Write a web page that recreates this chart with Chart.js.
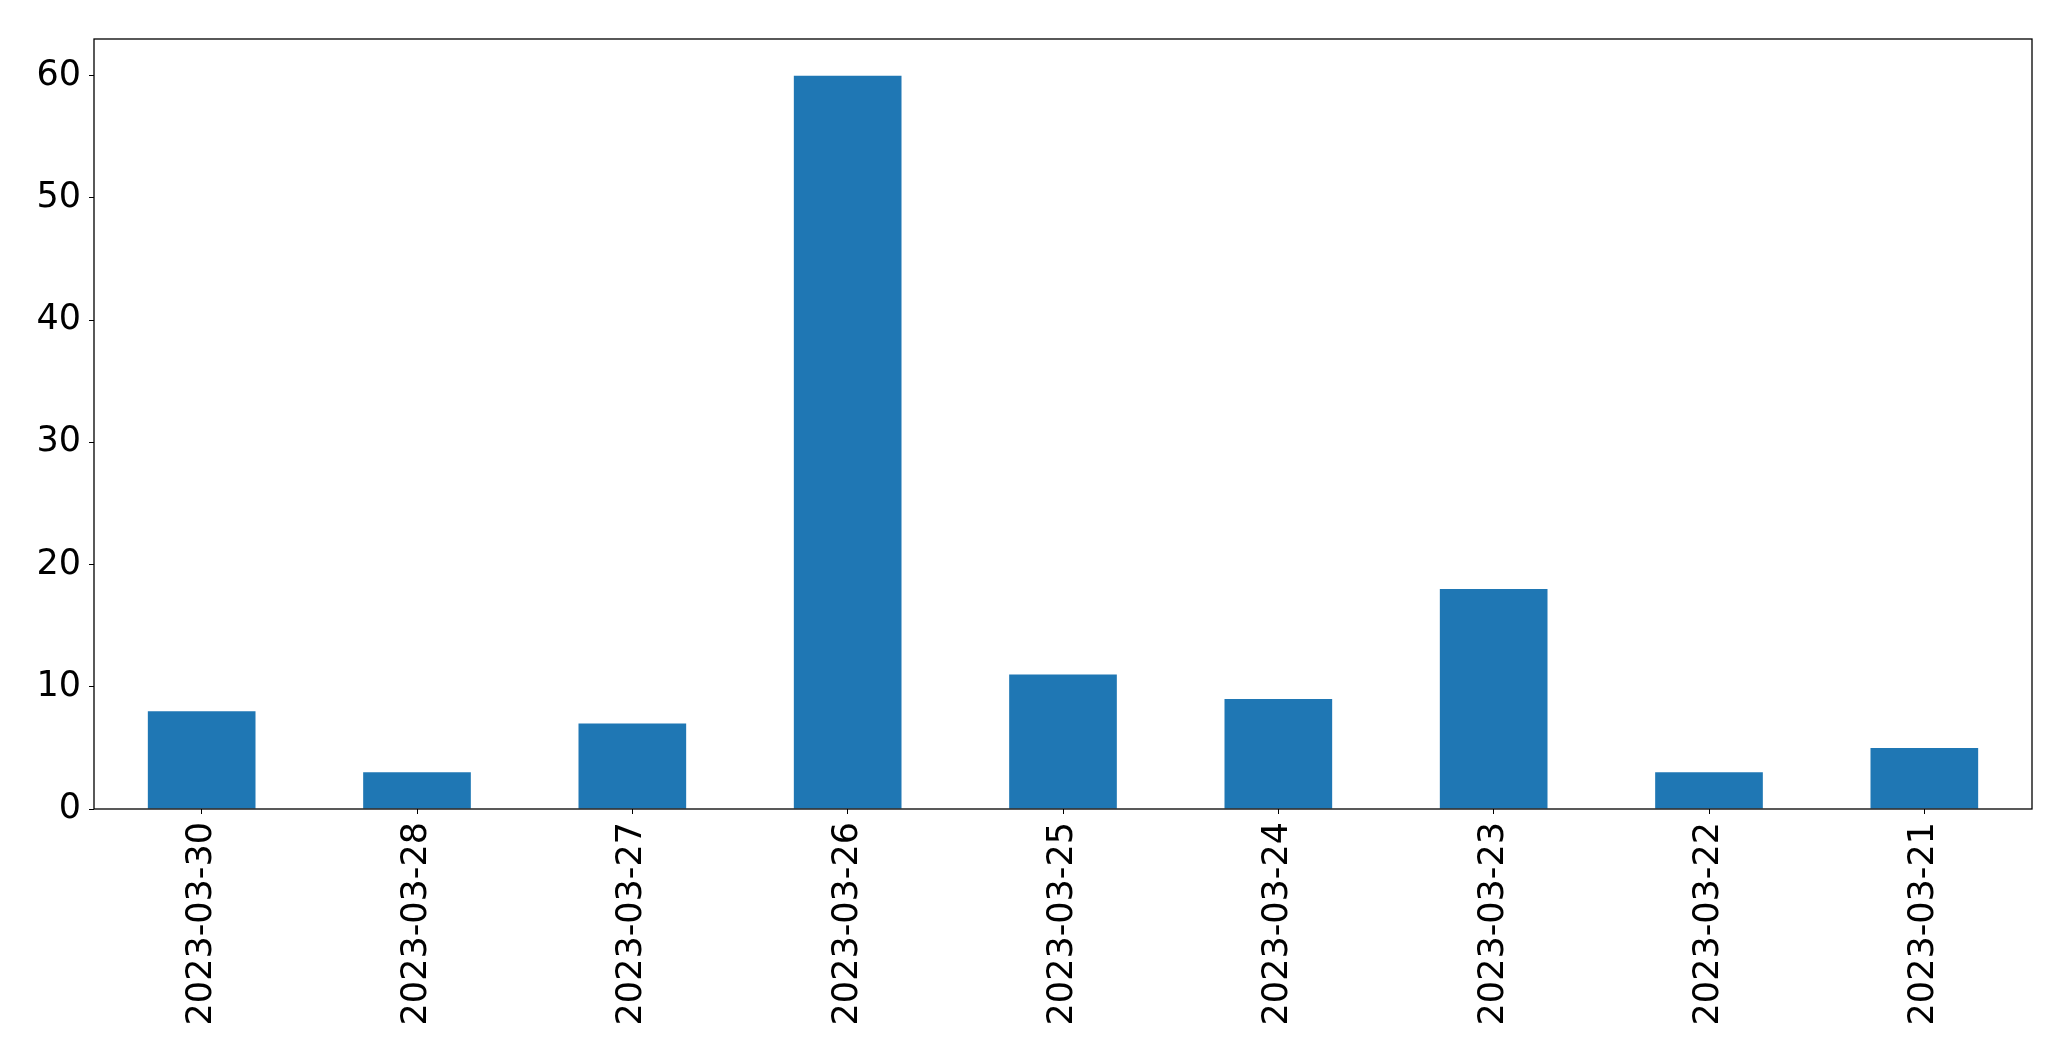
<!DOCTYPE html>
<html>
<head>
<meta charset="utf-8">
<script src="https://cdn.jsdelivr.net/npm/chart.js@4.4.0/dist/chart.umd.min.js"></script>
<style>
  html, body { margin: 0; padding: 0; background: #fff; }
  #wrap { width: 2071px; height: 1061px; }
</style>
</head>
<body>
<div id="wrap"><canvas id="chart" width="2071" height="1061"></canvas></div>
<script>
const dates = ["2023-03-30", "2023-03-28", "2023-03-27", "2023-03-26", "2023-03-25",
  "2023-03-24", "2023-03-23", "2023-03-22", "2023-03-21"];
const counts = [8, 3, 7, 60, 11, 9, 18, 3, 5];
const yTicks = [0, 10, 20, 30, 40, 50, 60];

// cadre noir autour de la zone de tracé
const frame = {
  id: "frame",
  afterDraw(chart) {
    const { ctx, chartArea: a } = chart;
    ctx.save();
    ctx.strokeStyle = "#000";
    ctx.lineWidth = 1.3;
    ctx.strokeRect(a.left, a.top, a.right - a.left, a.bottom - a.top);
    ctx.restore();
  }
};

const tickFont = { family: "DejaVu Sans", size: 35 };

new Chart(document.getElementById("chart"), {
  type: "bar",
  data: {
    labels: dates,
    datasets: [{
      data: counts,
      backgroundColor: "#1f77b4",
      barPercentage: 0.5,
      categoryPercentage: 1.0
    }]
  },
  options: {
    responsive: false,
    animation: false,
    layout: { padding: { left: 0, top: 39, right: 39, bottom: 0 } },
    plugins: { legend: { display: false }, tooltip: { enabled: false } },
    scales: {
      x: {
        offset: true,
        grid: { offset: false, drawOnChartArea: false, drawTicks: true, tickLength: 5, color: "#000" },
        border: { display: false },
        ticks: { color: "#000", font: tickFont, minRotation: 90, maxRotation: 90, padding: 8, autoSkip: false },
        afterFit(scale) { scale.height = 252; }
      },
      y: {
        min: 0,
        max: 63,
        grid: { drawOnChartArea: false, drawTicks: true, tickLength: 5, color: "#000" },
        border: { display: false },
        afterBuildTicks(scale) { scale.ticks = yTicks.map(v => ({ value: v })); },
        ticks: { color: "#000", font: tickFont, padding: 8 },
        afterFit(scale) { scale.width = 94; }
      }
    }
  },
  plugins: [frame]
});
</script>
</body>
</html>
